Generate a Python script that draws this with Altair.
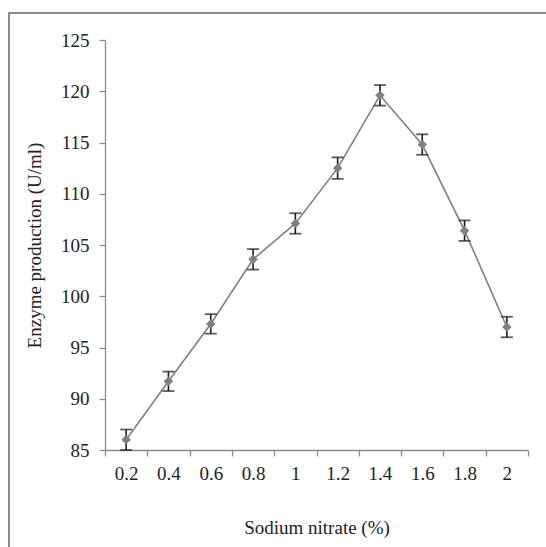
import altair as alt
import pandas as pd

# Sodium nitrate concentration (%) on the category axis
concentration = ["0.2", "0.4", "0.6", "0.8", "1", "1.2", "1.4", "1.6", "1.8", "2"]
# Mean enzyme production (U/ml)
production = [86.0, 91.7, 97.3, 103.6, 107.1, 112.5, 119.6, 114.8, 106.4, 97.0]
# Standard error for each mean
error = [1.0, 0.95, 0.95, 1.0, 1.0, 1.05, 1.0, 1.0, 1.0, 1.0]

y_ticks = [85, 90, 95, 100, 105, 110, 115, 120, 125]

df = pd.DataFrame({"conc": concentration, "prod": production, "err": error})
df["lo"] = df["prod"] - df["err"]
df["hi"] = df["prod"] + df["err"]

FONT = "Liberation Serif"
GREY = "#808080"
BAR = "#1a1a1a"
TEXT = "#222222"
FRAME = "#8c8c8c"
Y_TITLE = "Enzyme production (U/ml)"

x_enc = alt.X(
    "conc:N",
    sort=concentration,
    scale=alt.Scale(paddingInner=0, paddingOuter=0),
    axis=alt.Axis(
        title="Sodium nitrate (%)",
        labelAngle=0,
        tickBand="extent",
        labelPadding=8,
        titlePadding=35,
        labelFont=FONT,
        titleFont=FONT,
        titleFontSize=19,
        titleFontWeight="normal",
        titleColor=TEXT,
    ),
)
y_scale = alt.Scale(domain=[85, 125], nice=False, zero=False)
y_axis = alt.Axis(
    values=y_ticks, grid=False, labelPadding=10, titlePadding=16,
    labelFont=FONT, titleFont=FONT, titleFontSize=19,
    titleFontWeight="normal", titleColor=TEXT,
)

base = alt.Chart(df)

line = base.mark_line(color=GREY, strokeWidth=1.6).encode(
    x=x_enc, y=alt.Y("prod:Q", scale=y_scale, axis=y_axis, title=Y_TITLE)
)
points = base.mark_point(shape="diamond", filled=True, size=90, color=GREY, opacity=1).encode(
    x=x_enc, y=alt.Y("prod:Q", title=Y_TITLE)
)
whiskers = base.mark_rule(color=BAR, strokeWidth=1.6).encode(
    x=x_enc, y=alt.Y("lo:Q", title=Y_TITLE), y2="hi:Q"
)
cap_top = base.mark_tick(color=BAR, size=12, thickness=1.8).encode(
    x=x_enc, y=alt.Y("hi:Q", title=Y_TITLE)
)
cap_bottom = base.mark_tick(color=BAR, size=12, thickness=1.8).encode(
    x=x_enc, y=alt.Y("lo:Q", title=Y_TITLE)
)

# Outer frame; its right and bottom edges run past the page edge
frame_src = pd.DataFrame({"edge": [0]})
frame = alt.Chart(frame_src).mark_rect(
    fillOpacity=0, stroke=FRAME, strokeWidth=2
).encode(
    x=alt.value(-96), x2=alt.value(460), y=alt.value(-27), y2=alt.value(530)
)

chart = (
    alt.layer(frame, line, whiskers, cap_top, cap_bottom, points)
    .properties(width=423, height=410,
                autosize=alt.AutoSizeParams(type="none"),
                padding={"left": 105, "top": 40, "right": 18, "bottom": 97},
                background="white")
    .configure_view(strokeWidth=0)
    .configure_axis(
        domainColor="#8c8c8c",
        tickColor="#8c8c8c",
        domainWidth=1.3,
        tickWidth=1.3,
        tickSize=6,
        labelFont=FONT,
        labelFontSize=19,
        labelColor=TEXT,
        titleFont=FONT,
        titleFontSize=19,
        titleFontWeight="normal",
        titleColor=TEXT,
    )
)

chart.save("out.html", embed_options={"renderer": "svg", "actions": False})
